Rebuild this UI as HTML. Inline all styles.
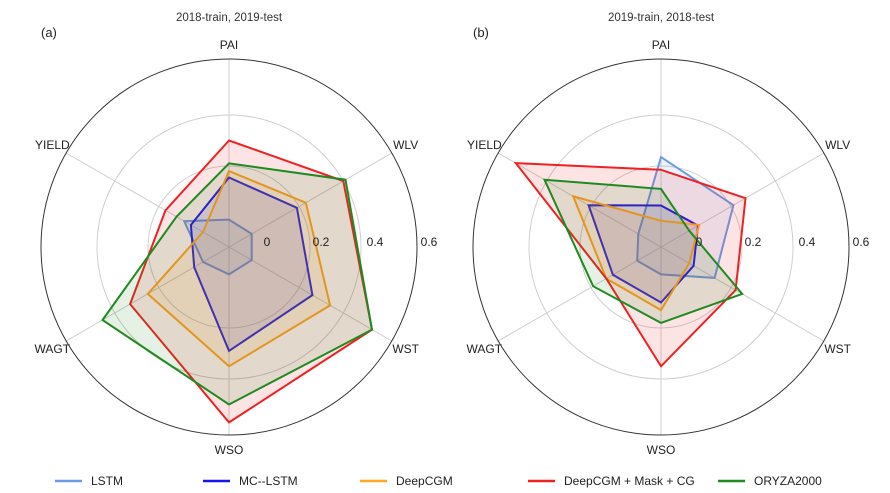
<!DOCTYPE html>
<html><head><meta charset="utf-8"><style>
body{margin:0;background:#fff}
svg{display:block;font-family:"Liberation Sans","DejaVu Sans",sans-serif}
</style></head><body>
<svg id="chart" width="890" height="493" viewBox="0 0 890 493"></svg>
<script>
const axesLabels = ["PAI","WLV","WST","WSO","WAGT","YIELD"];
const seriesNames = ["LSTM","MC--LSTM","DeepCGM","DeepCGM + Mask + CG","ORYZA2000"];
const seriesColors = ["#6b9be8","#1515f0","#ffa820","#ee2222","#1f8a1f"];
const ringTicks = [0,0.2,0.4,0.6];
const tickLabels = ["0","0.2","0.4","0.6"];
// panel a values [PAI,WLV,WST,WSO,WAGT,YIELD]
const aLSTM = [-0.01,-0.015,-0.015,-0.01,0.0,0.085];
const aMC = [0.155,0.19,0.26,0.29,0.04,0.055];
const aDeep = [0.18,0.23,0.34,0.35,0.25,0.0];
const aMask = [0.30,0.40,0.53,0.57,0.33,0.17];
const aOryza = [0.21,0.41,0.53,0.50,0.455,0.12];
// panel b values
const bLSTM = [0.235,0.21,0.125,-0.01,-0.01,-0.015];
const bMC = [0.045,0.05,0.03,0.10,0.10,0.21];
const bDeep = [-0.015,0.055,0.01,0.13,0.13,0.28];
const bMask = [0.185,0.265,0.22,0.35,0.13,0.54];
const bOryza = [0.11,0.01,0.25,0.18,0.19,0.41];

const NS="http://www.w3.org/2000/svg";
const svg=document.getElementById('chart');
function mk(tag,attrs,parent){const e=document.createElementNS(NS,tag);for(const k in attrs)e.setAttribute(k,attrs[k]);(parent||svg).appendChild(e);return e;}
function rScale(v){return 30+255*v;}
function angle(i){return (90-60*i)*Math.PI/180;}
function pt(cx,cy,i,v){const r=rScale(v),a=angle(i);return [cx+r*Math.cos(a),cy-r*Math.sin(a)];}

function panel(cx,cy,title,tag,data,key){
  const g=mk('g',{});
  
  
  ringTicks.slice(1,3).forEach((t,k)=>{
    const c=mk('circle',{cx:cx,cy:cy,r:rScale(t),fill:'none',stroke:'#cfcfcf','stroke-width':1},g);
    
    
  });
  axesLabels.forEach((lab,i)=>{
    const a=angle(i);
    const l=mk('line',{x1:cx,y1:cy,x2:cx+188*Math.cos(a),y2:cy-188*Math.sin(a),stroke:'#cfcfcf','stroke-width':1},g);
    
    
    const lr=204;
    let tx=cx+lr*Math.cos(a), ty=cy-lr*Math.sin(a);
    if(i===0) ty=cy-202;
    if(i===3) ty=cy+203;
    const t=mk('text',{x:tx,y:ty+4,'font-size':12,fill:'#222','text-anchor':'middle'},g);
    t.textContent=lab;
    
    
  });
  const outer=mk('circle',{cx:cx,cy:cy,r:188,fill:'none',stroke:'#333','stroke-width':1},g);
  
  
  data.forEach((vals,s)=>{
    const pts=vals.map((v,i)=>pt(cx,cy,i,v).map(n=>n.toFixed(1)).join(',')).join(' ');
    const p=mk('polygon',{points:pts,fill:seriesColors[s],'fill-opacity':0.12,stroke:seriesColors[s],'stroke-width':2,'stroke-linejoin':'miter'},g);
    
    
  });
  ringTicks.forEach((t,k)=>{
    const tl=mk('text',{x:cx+rScale(t)*1.0+8+t*15,y:cy-1,'font-size':12,fill:'#222','text-anchor':'middle'},g);
    tl.textContent=tickLabels[k];
    
    
  });
  const tt=mk('text',{x:cx,y:21,'font-size':11.5,fill:'#333','text-anchor':'middle'},g);
  tt.textContent=title;
  
  
  const tg=mk('text',{x:cx-188,y:37,'font-size':13,fill:'#222'},g);
  tg.textContent=tag;
  
  
}
panel(229,247,"2018-train, 2019-test","(a)",[aLSTM,aMC,aDeep,aMask,aOryza],'a');
panel(661,247,"2019-train, 2018-test","(b)",[bLSTM,bMC,bDeep,bMask,bOryza],'b');

const legX=[55,203,360,528,718];
const lg=mk('g',{});


seriesNames.forEach((n,s)=>{
  const e=mk('g',{},lg);
  
  
  mk('line',{x1:legX[s],y1:481,x2:legX[s]+27,y2:481,stroke:seriesColors[s],'stroke-width':2.5},e);
  const t=mk('text',{x:legX[s]+36,y:485,'font-size':12,fill:'#222'},e);
  t.textContent=n;
});
</script>
</body></html>
